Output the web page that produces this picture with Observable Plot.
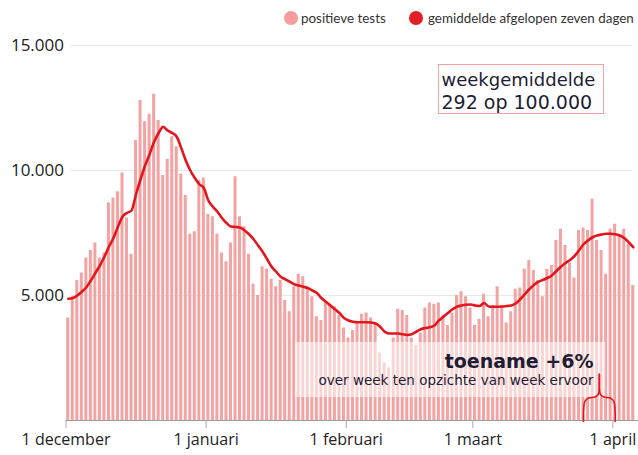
<!DOCTYPE html>
<html>
<head>
<meta charset="utf-8">
<script src="https://cdn.jsdelivr.net/npm/d3@7"></script>
<script src="https://cdn.jsdelivr.net/npm/@observablehq/plot@0.6"></script>
<style>
  body { margin: 0; background: #fff; }
  #wrap { position: relative; width: 638px; height: 455px; overflow: hidden; font-family: "Open Sans", sans-serif; background: #fff; }
  #legend { position: absolute; top: 0; left: 0; width: 638px; height: 30px; }
  .lg { position: absolute; top: 8px; font-family: Lato, sans-serif; font-size: 13.4px; line-height: 20px; color: #333; white-space: nowrap; }
  .dot { position: absolute; top: 11px; width: 14px; height: 14px; border-radius: 50%; }
  #chart { position: absolute; top: 30px; left: 0; }
  #box1 { position: absolute; left: 438px; top: 64px; width: 166px; height: 50px; border: 1px solid #f4a3a3; box-sizing: border-box; pointer-events: none; }
</style>
</head>
<body>
<div id="wrap">
  <div id="legend"></div>
  <div id="chart"></div>
  <div id="box1"></div>
</div>
<script>
// ---- data ----
const startDatum = "2020-12-01";
const positieveTests = [
  4100, 4950, 5600, 5900, 6500, 6800, 7100, 6500, 6700, 8700,
  8900, 9150, 9900, 8100, 6650, 11200, 12800, 11950, 12250, 13050,
  12000, 9800, 10450, 11350, 10950, 9850, 9000, 7450, 7550, 9600,
  9700, 8250, 8150, 7450, 6700, 6350, 7100, 9750, 8150, 7750,
  6650, 5450, 5000, 6150, 6050, 5650, 5350, 5600, 4800, 4350,
  5350, 5850, 5750, 5250, 4950, 4150, 4000, 4750, 4650, 4550,
  4200, 3700, 3300, 3600, 3950, 4250, 4300, 4100, 3850, 2700,
  2300, 2100, 3300, 4450, 4400, 4200, 3300, 3000, 3500, 4500,
  4700, 4650, 4700, 4200, 3800, 4300, 5000, 5150, 4950, 4500,
  3800, 4050, 5050, 4150, 4600, 5350, 4600, 3900, 4350, 5250,
  5300, 6050, 6400, 6000, 5600, 4950, 6050, 6200, 7200, 7650,
  7000, 6300, 5700, 7600, 7700, 7600, 8850, 7200, 6800, 5850,
  7650, 7850, 7400, 7650, 7050, 5400
];
const gemiddelde = [
  4870, 4900, 5000, 5150, 5330, 5600, 5900, 6200, 6550, 6950,
  7300, 7750, 8150, 8300, 8400, 9050, 9650, 10200, 10650, 11150,
  11500, 11750, 11600, 11500, 11350, 10900, 10400, 10000, 9700, 9450,
  9300, 8800, 8550, 8350, 8100, 7900, 7760, 7740, 7720, 7600,
  7450, 7250, 7000, 6750, 6450, 6150, 5950, 5750, 5650, 5550,
  5450, 5400, 5350, 5300, 5200, 5100, 4900, 4750, 4600, 4450,
  4300, 4100, 4000, 3950, 3930, 3930, 3930, 3920, 3880, 3750,
  3550, 3480, 3480, 3480, 3450, 3420, 3450, 3550, 3650, 3700,
  3730, 3800, 4000, 4150, 4300, 4450, 4550, 4600, 4630, 4640,
  4600, 4580, 4700, 4560, 4550, 4550, 4560, 4580, 4600, 4680,
  4850, 5050, 5250, 5420, 5550, 5620, 5700, 5800, 5980, 6150,
  6300, 6420, 6580, 6800, 7050, 7200, 7330, 7400, 7440, 7470,
  7470, 7450, 7400, 7300, 7130, 6930
];
const maandTicks = ["2020-12-01", "2021-01-01", "2021-02-01", "2021-03-01", "2021-04-01"];
const maandLabels = ["1 december", "1 januari", "1 februari", "1 maart", "1 april"];
const yTicks = [5000, 10000, 15000];
const legendLabels = ["positieve tests", "gemiddelde afgelopen zeven dagen"];
const weekTekst = ["weekgemiddelde", "292 op 100.000"];
const trendTekst = ["toename +6%", "over week ten opzichte van week ervoor"];
const bracketVan = "2021-03-25";
const bracketTot = "2021-04-01";

// ---- colours ----
const pink = "#f4a3a3";
const red = "#e3161d";

// ---- legend ----
const legend = document.getElementById("legend");
legend.innerHTML = `
  <div class="dot" style="left:284px;background:#f59d9d"></div>
  <div class="lg" style="left:301px">${legendLabels[0]}</div>
  <div class="dot" style="left:409px;background:#e31e24"></div>
  <div class="lg" style="left:428px">${legendLabels[1]}</div>`;

// ---- table ----
const start = new Date(startDatum + "T00:00:00Z");
const days = positieveTests.map((v, i) => ({
  datum: d3.utcDay.offset(start, i),
  tests: v,
  gem: gemiddelde[i]
}));
const end = d3.utcDay.offset(start, days.length);
const ticks = maandTicks.map(s => new Date(s + "T00:00:00Z"));

// annotation box (behind text, above bars)
const box = [{x1: new Date("2021-01-20T19:00:00Z"), x2: new Date("2021-03-30T10:00:00Z"), y1: 920, y2: 3120}];

// curly bracket, built from the week it marks
const b0 = +new Date(bracketVan + "T12:00:00Z");
const b1 = +new Date(bracketTot + "T12:00:00Z");
const bm = (b0 + b1) / 2;
const D = 864e5;
const leftHalf = [[b0, -40], [b0, 380], [b0 + 0.3 * D, 760], [b0 + 1.1 * D, 900], [bm - 1.0 * D, 940], [bm - 0.25 * D, 1040], [bm, 1350], [bm, 1850]];
const rightHalf = [[b1, -40], [b1, 380], [b1 - 0.3 * D, 760], [b1 - 1.1 * D, 900], [bm + 1.0 * D, 940], [bm + 0.25 * D, 1040], [bm, 1350], [bm, 1850]];
const toPts = arr => arr.map(([t, v]) => ({t: new Date(t), v}));

const mL = 65.5, mT = 15;
const fmt = d => d3.format(",")(d).replace(/,/g, ".");

const chart = Plot.plot({
  width: 638,
  height: 425,
  marginTop: mT,
  marginBottom: 35,
  marginLeft: mL,
  marginRight: 3,
  x: {type: "utc", domain: [start, end]},
  y: {domain: [0, 15000]},
  style: {fontFamily: "'Open Sans', sans-serif", background: "white", overflow: "visible"},
  marks: [
    Plot.ruleY(yTicks, {stroke: "#e9e9e9", strokeWidth: 1, insetLeft: 5, insetRight: 3}),
    Plot.rectY(days, {
      x1: "datum",
      x2: d => d3.utcDay.offset(d.datum, 1),
      y: "tests",
      fill: pink,
      insetLeft: 0.75,
      insetRight: 0.75
    }),
    Plot.ruleY([0], {stroke: "#999", strokeWidth: 1, insetRight: -3}),
    Plot.rect(box, {x1: "x1", x2: "x2", y1: "y1", y2: "y2", fill: "white", fillOpacity: 0.55}),
    Plot.line(days, {
      x: d => new Date(+d.datum + D / 2),
      y: "gem",
      stroke: red,
      strokeWidth: 2.6,
      curve: "monotone-x"
    }),
    Plot.line(toPts(leftHalf), {x: "t", y: "v", stroke: red, strokeWidth: 1.6, curve: "catmull-rom"}),
    Plot.line(toPts(rightHalf), {x: "t", y: "v", stroke: red, strokeWidth: 1.6, curve: "catmull-rom"}),
    Plot.axisX(ticks, {
      tickFormat: (d, i) => maandLabels[i],
      tickSize: 8,
      tickPadding: 5,
      fontSize: 16,
      stroke: "#aaa",
      fill: "#222",
      label: null
    }),
    Plot.axisY(yTicks, {
      tickSize: 0,
      tickPadding: 2,
      tickFormat: fmt,
      fontSize: 17,
      fill: "#222",
      label: null
    }),
    // top-right box text
    Plot.text([weekTekst[0]], {
      text: d => d, frameAnchor: "top-left", dx: 441 - mL, dy: 85 - 45,
      lineAnchor: "bottom", textAnchor: "start", fontSize: 18,
      fontFamily: "DejaVu Sans", fill: "#1d1d33"
    }),
    Plot.text([weekTekst[1]], {
      text: d => d, frameAnchor: "top-left", dx: 441 - mL, dy: 108 - 45,
      lineAnchor: "bottom", textAnchor: "start", fontSize: 19,
      fontFamily: "DejaVu Sans", fill: "#1d1d33"
    }),
    // trend text
    Plot.text([trendTekst[0]], {
      text: d => d, frameAnchor: "top-left", dx: 593 - mL, dy: 367 - 45,
      lineAnchor: "bottom", textAnchor: "end", fontSize: 19, fontWeight: "bold",
      fontFamily: "DejaVu Sans", fill: "#1d1d33"
    }),
    Plot.text([trendTekst[1]], {
      text: d => d, frameAnchor: "top-left", dx: 593 - mL, dy: 384 - 45,
      lineAnchor: "bottom", textAnchor: "end", fontSize: 13.5,
      fontFamily: "DejaVu Sans", fill: "#1d1d33"
    })
  ]
});
document.getElementById("chart").appendChild(chart);
</script>
</body>
</html>
